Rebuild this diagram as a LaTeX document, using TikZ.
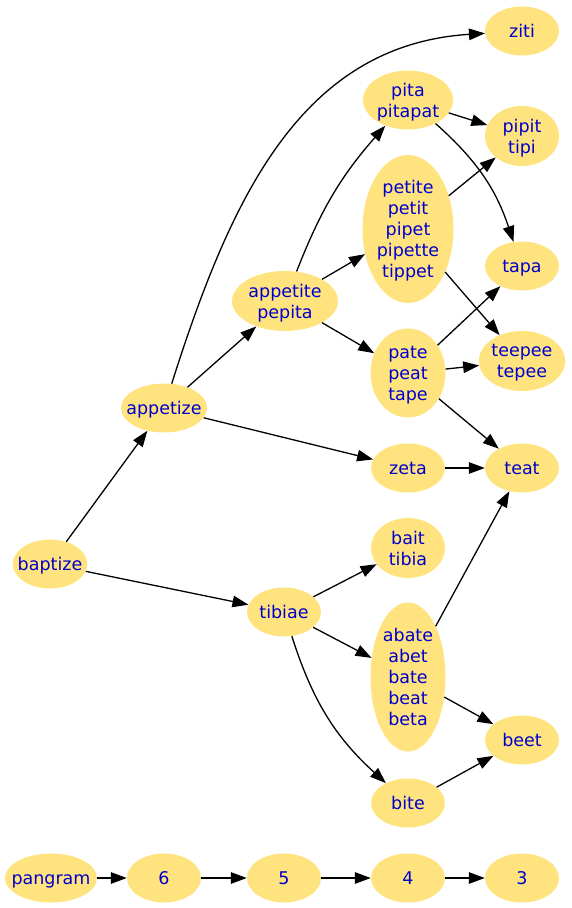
\documentclass[tikz,border=0pt]{standalone}
\usepackage{fontspec}
\setmainfont{DejaVu Sans}
\usepackage{xcolor}
\usepackage{tikz}
\usetikzlibrary{arrows.meta, shapes.geometric}
\definecolor{wordfill}{HTML}{FFE37E}
\definecolor{wordink}{HTML}{0000CD}
\tikzset{
  wordset/.style={ellipse, fill=wordfill, text=wordink, align=center, inner sep=0pt,
    font=\fontsize{17.5}{21}\selectfont, text depth=0pt, minimum width=74pt, minimum height=49pt},
  word/.style={wordset, text height=12.5pt},
  longword/.style={inner xsep=-#1},
  arr/.style={-{Triangle[length=16pt, width=11.5pt]}, draw=black, line width=1.3pt},
}

\begin{document}
\begin{tikzpicture}[x=1pt, y=1pt]
  \useasboundingbox (0,0) rectangle (571,-908);

  % column 1
  \node[word, longword=6pt] (baptize) at (50,-564) {baptize};
  \node[word, longword=7pt, minimum width=92pt] (pangram) at (51,-878) {pangram};

  % column 2
  \node[word, longword=7.3pt, minimum width=86pt] (appetize) at (164,-408) {appetize};
  \node[word] (six) at (164,-878) {6};

  % column 3
  \node[wordset, minimum width=106pt, minimum height=60pt] (appetite) at (285,-301) {appetite\\pepita};
  \node[word] (tibiae) at (284,-612) {tibiae};
  \node[word] (five) at (284,-878) {5};

  % column 4
  \node[wordset, minimum width=90pt, minimum height=59pt] (pita) at (408,-100) {pita\\pitapat};
  \node[wordset, minimum width=91pt, minimum height=148pt] (petite) at (408,-229)
    {petite\\petit\\pipet\\pipette\\tippet};
  \node[wordset, minimum width=75pt, minimum height=89pt] (pate) at (408,-373) {pate\\peat\\tape};
  \node[word] (zeta) at (408,-468) {zeta};
  \node[wordset, minimum height=60pt] (bait) at (408,-548) {bait\\tibia};
  \node[wordset, minimum width=75pt, minimum height=149pt] (abate) at (408,-677)
    {abate\\abet\\bate\\beat\\beta};
  \node[word] (bite) at (408,-803) {bite};
  \node[word] (four) at (408,-878) {4};

  % column 5
  \node[word] (ziti) at (522,-31) {ziti};
  \node[wordset, minimum height=60pt] (pipit) at (522,-136) {pipit\\tipi};
  \node[word] (tapa) at (522,-266) {tapa};
  \node[wordset, minimum width=86pt, minimum height=60pt] (teepee) at (522,-361) {teepee\\tepee};
  \node[word] (teat) at (522,-468) {teat};
  \node[word] (beet) at (522,-740) {beet};
  \node[word] (three) at (522,-878) {3};

  % edges
  \draw[arr] (baptize) -- (appetize);
  \draw[arr] (baptize) -- (tibiae);
  \draw[arr] (appetize) .. controls (230,-200) and (300,-45) .. (ziti);
  \draw[arr] (appetize) -- (appetite);
  \draw[arr] (appetize) -- (zeta);
  \draw[arr] (appetite) to[bend left=10] (pita);
  \draw[arr] (appetite) -- (petite);
  \draw[arr] (appetite) -- (pate);
  \draw[arr] (pita) -- (pipit);
  \draw[arr] (pita) to[bend left=15] (tapa);
  \draw[arr] (petite) -- (pipit);
  \draw[arr] (petite) -- (teepee);
  \draw[arr] (pate) -- (tapa);
  \draw[arr] (pate) -- (teepee);
  \draw[arr] (pate) -- (teat);
  \draw[arr] (zeta) -- (teat);
  \draw[arr] (tibiae) -- (bait);
  \draw[arr] (tibiae) -- (abate);
  \draw[arr] (tibiae) to[bend right=15] (bite);
  \draw[arr] (abate) -- (teat);
  \draw[arr] (abate) -- (beet);
  \draw[arr] (bite) -- (beet);

  % bottom chain
  \draw[arr] (pangram) -- (six);
  \draw[arr] (six) -- (five);
  \draw[arr] (five) -- (four);
  \draw[arr] (four) -- (three);
\end{tikzpicture}
\end{document}
